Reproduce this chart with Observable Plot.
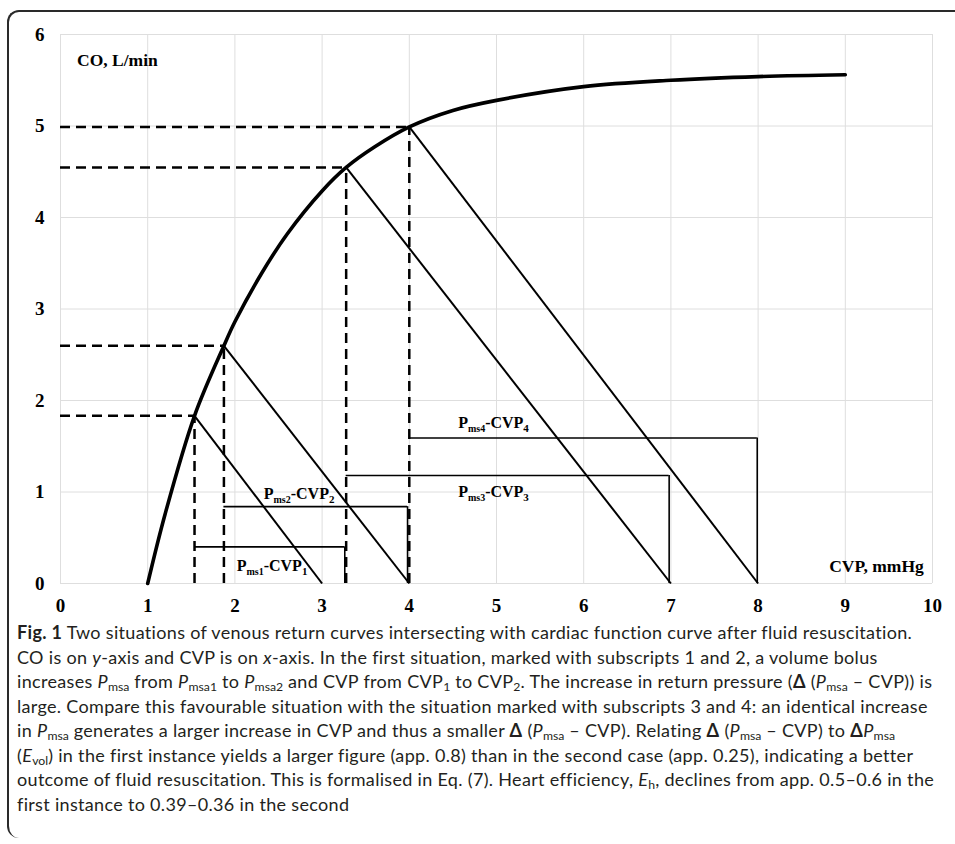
<!DOCTYPE html>
<html>
<head>
<meta charset="utf-8">
<script src="https://cdn.jsdelivr.net/npm/d3@7"></script>
<script src="https://cdn.jsdelivr.net/npm/@observablehq/plot@0.6"></script>
<style>
  html, body { margin: 0; padding: 0; background: #fff; }
  body { width: 955px; height: 844px; position: relative; overflow: hidden; }
  #frame { position: absolute; left: 7px; top: 10px; width: 980px; height: 828px;
           border-top: 2px solid #2a2a2a; border-left: 2px solid #2a2a2a;
           border-top-left-radius: 12px; border-bottom-left-radius: 12px; box-sizing: border-box; }
  #chart { position: absolute; left: 0; top: 0; }
  #caption { position: absolute; left: 17px; top: 620px; width: 935px;
             font-family: Lato, "Noto Sans", sans-serif; font-size: 18px; line-height: 24.5px;
             letter-spacing: 0.32px; color: #231f20; white-space: nowrap; }
  #caption sub { font-size: 0.68em; line-height: 0; vertical-align: -0.25em; letter-spacing: 0; }
  #caption b { font-weight: 700; }
</style>
</head>
<body>
<div id="frame"></div>
<div id="chart"></div>
<div id="caption">
<b>Fig. 1</b> Two situations of venous return curves intersecting with cardiac function curve after fluid resuscitation.<br>
CO is on <i>y</i>-axis and CVP is on <i>x</i>-axis. In the first situation, marked with subscripts 1 and 2, a volume bolus<br>
increases <i>P</i><sub>msa</sub> from <i>P</i><sub>msa1</sub> to <i>P</i><sub>msa2</sub> and CVP from CVP<sub>1</sub> to CVP<sub>2</sub>. The increase in return pressure (<b>Δ</b> (<i>P</i><sub>msa</sub> – CVP)) is<br>
large. Compare this favourable situation with the situation marked with subscripts 3 and 4: an identical increase<br>
in <i>P</i><sub>msa</sub> generates a larger increase in CVP and thus a smaller <b>Δ</b> (<i>P</i><sub>msa</sub> – CVP). Relating <b>Δ</b> (<i>P</i><sub>msa</sub> – CVP) to <b>Δ</b><i>P</i><sub>msa</sub><br>
(<i>E</i><sub>vol</sub>) in the first instance yields a larger figure (app. 0.8) than in the second case (app. 0.25), indicating a better<br>
outcome of fluid resuscitation. This is formalised in Eq. (7). Heart efficiency, <i>E</i><sub>h</sub>, declines from app. 0.5–0.6 in the<br>
first instance to 0.39–0.36 in the second
</div>
<script>
// Axis ticks
const xTicks = [0, 1, 2, 3, 4, 5, 6, 7, 8, 9, 10];
const yTicks = [0, 1, 2, 3, 4, 5, 6];

// Cardiac function curve (CVP, CO)
const curveCVP = [1.0, 1.2, 1.537, 1.874, 2.0, 2.3, 2.6, 3.0, 3.276, 3.6, 4.0, 4.5, 5.0, 6.0, 7.0, 8.0, 9.0];
const curveCO  = [0.0, 0.76, 1.833, 2.598, 2.86, 3.38, 3.82, 4.29, 4.547, 4.77, 4.99, 5.17, 5.28, 5.43, 5.50, 5.54, 5.56];

// Intersection points of venous return lines with cardiac function curve
const pointCVP = [1.537, 1.874, 3.276, 4.0];
const pointCO  = [1.833, 2.598, 4.547, 4.99];
// Venous return lines reach CO = 0 at Pms
const pmsValue = [3, 4, 7, 8];

// Pms - CVP brackets
const bracketCO    = [0.40, 0.84, 1.18, 1.59];
const bracketStart = [1.537, 1.874, 3.276, 4.0];
const bracketEnd   = [3.26, 3.98, 6.98, 7.99];

// Bracket labels
const labelText = ["Pms1-CVP1", "Pms2-CVP2", "Pms3-CVP3", "Pms4-CVP4"];
const labelCVP  = [2.02, 2.33, 4.56, 4.56];
const labelCO   = [0.19, 0.98, 1.0, 1.755];

// Axis titles
const yTitle = ["CO, L/min"];
const yTitleCVP = [0.19];
const yTitleCO = [5.72];
const xTitle = ["CVP, mmHg"];
const xTitleCVP = [9.9];
const xTitleCO = [0.19];

const curve = curveCVP.map((x, i) => ({x, y: curveCO[i]}));
const points = pointCVP.map((x, i) => ({x, y: pointCO[i], pms: pmsValue[i]}));
const brackets = bracketCO.map((y, i) => ({y, x1: bracketStart[i], x2: bracketEnd[i]}));
const labels = labelText.map((t, i) => ({t, x: labelCVP[i], y: labelCO[i]}));
const yT = yTitle.map((t, i) => ({t, x: yTitleCVP[i], y: yTitleCO[i]}));
const xT = xTitle.map((t, i) => ({t, x: xTitleCVP[i], y: xTitleCO[i]}));

const serif = "'Liberation Serif', 'Times New Roman', serif";

const chart = Plot.plot({
  width: 955,
  height: 620,
  marginLeft: 60,
  marginRight: 23,
  marginTop: 34,
  marginBottom: 37,
  style: {fontFamily: serif, background: "transparent", color: "#000"},
  x: {domain: [0, 10]},
  y: {domain: [0, 6]},
  marks: [
    Plot.gridX(xTicks, {stroke: "#dedede", strokeOpacity: 1, strokeWidth: 1}),
    Plot.gridY(yTicks, {stroke: "#dedede", strokeOpacity: 1, strokeWidth: 1}),
    Plot.axisX(xTicks, {tickSize: 0, tickPadding: 15, fontSize: 19, fontWeight: "bold", label: null, tickFormat: d => String(d)}),
    Plot.axisY(yTicks, {tickSize: 0, tickPadding: 16, fontSize: 19, fontWeight: "bold", label: null, tickFormat: d => String(d)}),
    // dashed guides
    Plot.ruleY(points, {y: "y", x1: 0, x2: "x", stroke: "#000", strokeWidth: 2.5, strokeDasharray: "10,6"}),
    Plot.ruleX(points, {x: "x", y1: 0, y2: "y", stroke: "#000", strokeWidth: 2.5, strokeDasharray: "10,6"}),
    // brackets
    Plot.ruleY(brackets, {y: "y", x1: "x1", x2: "x2", stroke: "#000", strokeWidth: 1.6}),
    Plot.ruleX(brackets, {x: "x2", y1: 0, y2: "y", stroke: "#000", strokeWidth: 1.6}),
    // venous return lines
    Plot.link(points, {x1: "x", y1: "y", x2: "pms", y2: () => 0, stroke: "#000", strokeWidth: 2}),
    // cardiac function curve
    Plot.line(curve, {x: "x", y: "y", curve: "catmull-rom", stroke: "#000", strokeWidth: 3.6}),
    Plot.text(labels, {x: "x", y: "y", text: "t", textAnchor: "start", fontSize: 16, fontWeight: "bold", fill: "#000"}),
    Plot.text(yT, {x: "x", y: "y", text: "t", textAnchor: "start", fontSize: 17.5, fontWeight: "bold", fill: "#000"}),
    Plot.text(xT, {x: "x", y: "y", text: "t", textAnchor: "end", fontSize: 17.5, fontWeight: "bold", fill: "#000"})
  ]
});

// subscripts for bracket labels
d3.select(chart).selectAll("text").each(function () {
  const m = /^P(ms)(\d)-CVP(\d)$/.exec(this.textContent);
  if (!m) return;
  const s = d3.select(this);
  s.text(null);
  s.append("tspan").text("P");
  s.append("tspan").attr("font-size", 10).attr("dy", 4).text(m[1] + m[2]);
  s.append("tspan").attr("dy", -4).text("-CVP");
  s.append("tspan").attr("font-size", 11).attr("dy", 4).text(m[3]);
});

document.getElementById("chart").appendChild(chart);
</script>
</body>
</html>
